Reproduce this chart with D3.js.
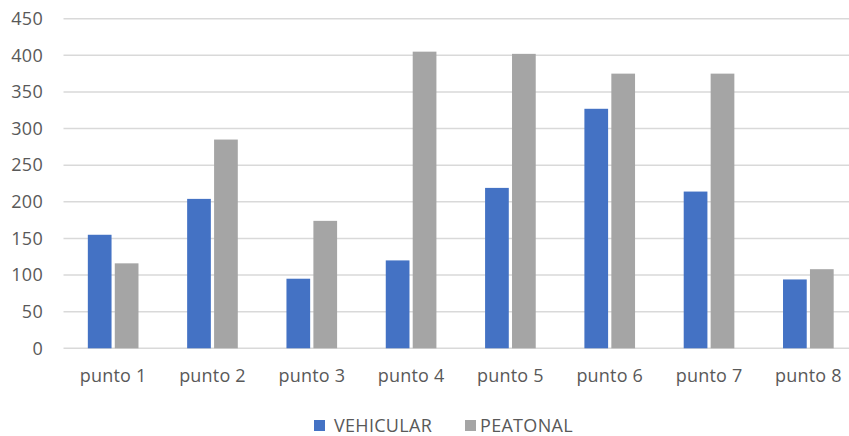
<!DOCTYPE html>
<html>
<head>
<meta charset="utf-8">
<script src="https://cdn.jsdelivr.net/npm/d3@7/dist/d3.min.js"></script>
<style>
  html, body { margin: 0; padding: 0; background: #fff; }
  svg { display: block; font-family: "Open Sans", "Liberation Sans", sans-serif; }
</style>
</head>
<body>
<svg id="chart" width="849" height="436"></svg>
<script>
const categories = ["punto 1", "punto 2", "punto 3", "punto 4", "punto 5", "punto 6", "punto 7", "punto 8"];
const seriesNames = ["VEHICULAR", "PEATONAL"];
const vehicular = [155, 204, 95, 120, 219, 327, 214, 94];
const peatonal = [116, 285, 174, 405, 402, 375, 375, 108];
const yTicks = [0, 50, 100, 150, 200, 250, 300, 350, 400, 450];
const colors = ["#4472C4", "#A5A5A5"];

const svg = d3.select("#chart");
const W = 849, H = 436;
const plot = { left: 63.5, right: 858, top: 18.7, bottom: 348.3 };

const x = d3.scaleBand().domain(categories).range([plot.left, plot.right]).paddingInner(0.49).paddingOuter(0.245);
const x1 = d3.scaleBand().domain(seriesNames).range([0, x.bandwidth()]).paddingInner(0.12);
const y = d3.scaleLinear().domain([0, 450]).range([plot.bottom, plot.top]);

// gridlines
svg.append("g")
  .selectAll("line").data(yTicks).join("line")
  .attr("x1", plot.left).attr("x2", W)
  .attr("y1", d => y(d)).attr("y2", d => y(d))
  .attr("stroke", "#D9D9D9").attr("stroke-width", 1.5);

// y axis labels
const yAxis = d3.axisLeft(y).tickValues(yTicks).tickSize(0).tickPadding(0);
const gy = svg.append("g").attr("transform", "translate(43,0)").call(yAxis);
gy.select(".domain").remove();
gy.selectAll("text").attr("fill", "#595959").style("font-size", "18px")
  .style("font-family", "'Open Sans', sans-serif").style("letter-spacing", "0.3px");

// bars
const rows = categories.map((c, i) => ({ cat: c, vals: [vehicular[i], peatonal[i]] }));
const groups = svg.append("g").selectAll("g").data(rows).join("g")
  .attr("transform", d => `translate(${x(d.cat)},0)`);
groups.selectAll("rect").data(d => d.vals.map((v, j) => ({ name: seriesNames[j], v, j })))
  .join("rect")
  .attr("x", d => x1(d.name))
  .attr("width", x1.bandwidth())
  .attr("y", d => y(d.v))
  .attr("height", d => y(0) - y(d.v))
  .attr("fill", d => colors[d.j]);

// x axis labels
const xAxis = d3.axisBottom(x).tickSize(0).tickPadding(0);
const gx = svg.append("g").attr("transform", `translate(0,${plot.bottom + 21})`).call(xAxis);
gx.select(".domain").remove();
gx.selectAll("text").attr("fill", "#595959").style("font-size", "18px")
  .style("font-family", "'Open Sans', sans-serif").style("letter-spacing", "0.2px");

// legend
const legendItems = [
  { name: seriesNames[0], color: colors[0], x: 314, tx: 334 },
  { name: seriesNames[1], color: colors[1], x: 465, tx: 480 }
];
const lg = svg.append("g").selectAll("g").data(legendItems).join("g")
  .attr("transform", "translate(0,426)");
lg.append("rect").attr("x", d => d.x).attr("y", -6).attr("width", 11).attr("height", 11).attr("fill", d => d.color);
lg.append("text").attr("x", d => d.tx).attr("y", 0).attr("dy", "0.35em")
  .attr("fill", "#595959").style("font-size", "18px").style("letter-spacing", "0.3px").text(d => d.name);
</script>
</body>
</html>
